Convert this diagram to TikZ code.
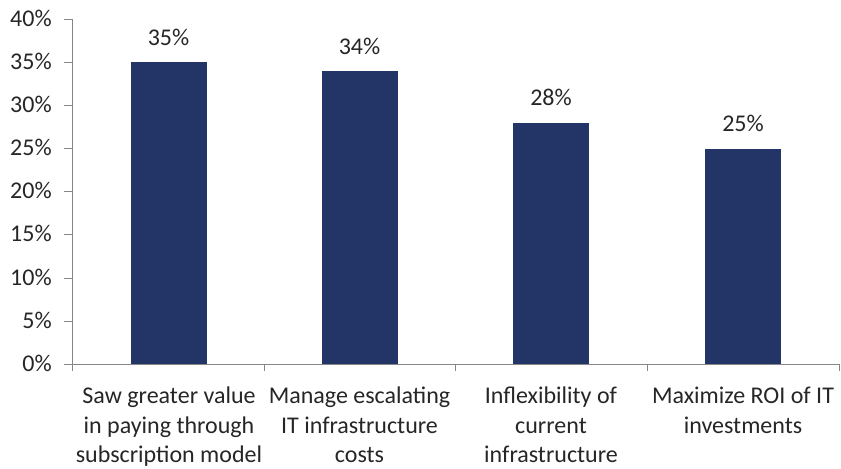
\documentclass[tikz,border=0pt]{standalone}
\usepackage{fontspec}
\setmainfont{Carlito}
\definecolor{barblue}{RGB}{35,52,103}
\definecolor{axisgray}{RGB}{134,134,134}
\definecolor{txt}{RGB}{38,38,38}
\begin{document}
\begin{tikzpicture}[x=0.75pt,y=-0.75pt,
  every node/.style={font=\fontsize{18}{22}\selectfont, text=txt, inner sep=0pt},
  axisline/.style={draw=axisgray, line width=0.75pt},
  barfill/.style={fill=barblue},
  ylab/.style={anchor=base east},
  vallab/.style={anchor=base},
  catlab/.style={anchor=base, align=center}]
\useasboundingbox (0,0) rectangle (841,468);
% axes
\coordinate (ytop) at (72.5,19.3);
\coordinate (orig) at (72.5,364.3);
\coordinate (xend) at (839.3,364.3);
\draw[axisline] (ytop) -- (orig) -- (xend);
% y ticks and labels
\foreach \i in {0,...,8}{
  \pgfmathsetmacro{\yy}{364.3-\i*43.125}
  \pgfmathtruncatemacro{\pc}{\i*5}
  \draw[axisline] (64,\yy) -- (72.5,\yy);
  \node[ylab] (y\i) at (52,\yy+7) {\pc\%};
}
% x ticks
\foreach \xx in {72.5,264.2,455.9,647.6,839.3}{
  \draw[axisline] (\xx,364.3) -- (\xx,371);
}
% bars
\fill[barfill] (130.5,364.3) rectangle (206.5,62.4);
\fill[barfill] (321.5,364.3) rectangle (397.5,71.1);
\fill[barfill] (513,364.3) rectangle (589,122.8);
\fill[barfill] (705,364.3) rectangle (781,148.7);
% value labels
\node[vallab] (v1) at (168.5,45.4) {35\%};
\node[vallab] (v2) at (359.5,54.1) {34\%};
\node[vallab] (v3) at (551,105.8) {28\%};
\node[vallab] (v4) at (743,131.7) {25\%};
% category labels (base anchor = last line baseline)
\node[catlab] (c1) at (169,462.5) {Saw greater value\\in paying through\\subscription model};
\node[catlab] (c2) at (359.5,462.5) {Manage escalating\\IT infrastructure\\costs};
\node[catlab] (c3) at (551,462.5) {Inflexibility of\\current\\infrastructure};
\node[catlab] (c4) at (743,433.2) {Maximize ROI of IT\\investments};
\end{tikzpicture}
\end{document}
